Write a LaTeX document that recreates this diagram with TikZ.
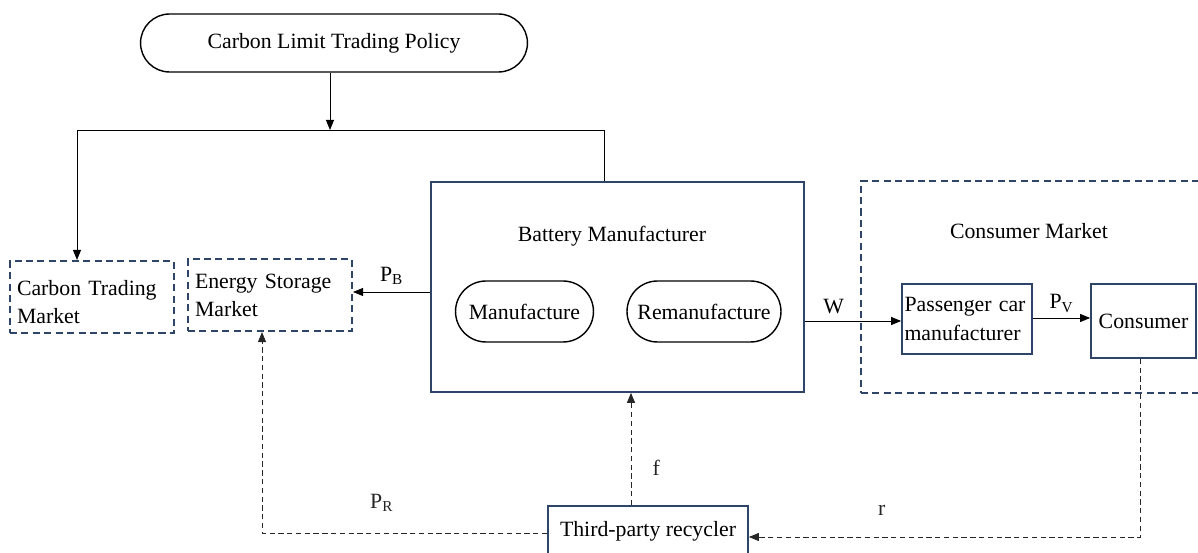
\documentclass[tikz,border=0pt]{standalone}
\usepackage{fontspec}
\setmainfont{Liberation Serif}
\usetikzlibrary{arrows.meta,shapes.misc}
\definecolor{boxblue}{HTML}{2E4468}

\begin{document}
\begin{tikzpicture}[x=0.02cm,y=-0.02cm,
  font=\fontsize{12.4}{16}\selectfont,
  every node/.style={inner sep=2pt},
  pill/.style={draw,rounded rectangle,line width=0.8pt},
  blk/.style={draw=boxblue,line width=1pt},
  dbox/.style={draw=boxblue,line width=1.2pt,dash pattern=on 4pt off 2.5pt},
  link/.style={-{Triangle[length=2mm,width=1.6mm]},line width=0.5pt},
  back/.style={link,gray!30!black,dash pattern=on 3pt off 2pt}]
\useasboundingbox (0,0) rectangle (1198,553);
% policy at the top
\node[pill,minimum width=7.88cm,minimum height=1.16cm] (policy) at (334,43) {Carbon Limit Trading Policy};
% markets on the left
\node[dbox,minimum width=3.28cm,minimum height=1.44cm,text width=3cm,align=left] (ctm) at (92,297) {\\[-2pt]Carbon Trading\\Market};
\node[dbox,minimum width=3.28cm,minimum height=1.44cm,text width=3cm,align=left] (esm) at (270,295) {Energy Storage\\Market\\[2pt]};
% battery manufacturer
\node[blk,minimum width=7.46cm,minimum height=4.2cm] (battery) at (617.5,287) {};
\node (bmlabel) at (612,236) {Battery Manufacturer};
\node[pill,minimum width=2.9cm,minimum height=1.22cm] (manu) at (524.5,311.5) {Manufacture};
\node[pill,minimum width=3.08cm,minimum height=1.22cm,inner sep=0pt] (reman) at (704,311.5) {Remanufacture};
% consumer market
\node[dbox,minimum width=7.2cm,minimum height=4.24cm] (cmarket) at (1041,287) {};
\node (cmlabel) at (1029,231) {Consumer Market};
\node[blk,minimum width=2.6cm,minimum height=1.4cm,text width=2.5cm,align=left,inner sep=1pt] (pcm) at (967,319) {Passenger car\\manufacturer};
\node[blk,minimum width=2.1cm,minimum height=1.48cm] (cons) at (1143.5,321) {Consumer};
% recycler
\node[blk,minimum width=4cm,minimum height=1cm] (recy) at (648,531) {Third-party recycler};

% policy links
\coordinate (busl) at (77,130);
\coordinate (busr) at (604,130);
\draw[link] (policy.south -| 330,0) -- (330,130);
\draw[line width=0.5pt] (battery.north -| busr) -- (busr) -- (busl);
\draw[link] (busl) -- (ctm.north -| busl);
% product flows
\draw[link] (battery.west |- 0,292) -- node[above,yshift=2pt] {P\textsubscript{B}} (esm.east |- 0,292);
\draw[link] (battery.east |- 0,321) -- node[above,pos=0.3,yshift=2pt] {W} (pcm.west |- 0,321);
\draw[link] (pcm.east |- 0,318) -- node[above,yshift=1pt] {P\textsubscript{V}} (cons.west |- 0,318);
% recycling flows
\draw[back] (recy.north -| 631,0) -- node[right,pos=0.33,xshift=10pt] {f} (battery.south -| 631,0);
\draw[back] (cons.south -| 1140,0) |- node[above,pos=0.83,yshift=10pt] {r} (recy.east |- 0,537);
\draw[back] (recy.west |- 0,533) -| node[above,pos=0.29,yshift=10pt] {P\textsubscript{R}} (esm.south -| 262,0);
\end{tikzpicture}
\end{document}
